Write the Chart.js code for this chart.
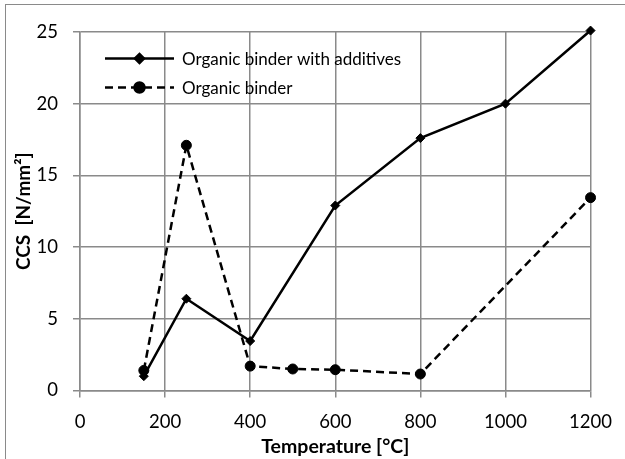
<!DOCTYPE html>
<html>
<head>
<meta charset="utf-8">
<script src="https://cdn.jsdelivr.net/npm/chart.js@4/dist/chart.umd.min.js"></script>
<style>
  html, body { margin: 0; padding: 0; background: #fff; }
  #wrap { position: relative; width: 625px; height: 459px; overflow: hidden; }
  #frame { position: absolute; left: 5px; top: 4px; width: 700px; height: 500px;
           border-left: 1.5px solid #8a8a8a; border-top: 1.5px solid #8a8a8a; pointer-events: none; }
  canvas { position: absolute; left: 0; top: 0; }
</style>
</head>
<body>
<div id="wrap">
  <canvas id="c" width="625" height="459"></canvas>
  <div id="frame"></div>
</div>
<script>
const temperatures = [150, 250, 400, 500, 600, 800, 1000, 1200];
const withAdditives = [1.0, 6.4, 3.45, null, 12.9, 17.6, 20.0, 25.1];
const organicBinder = [1.4, 17.1, 1.7, 1.5, 1.45, 1.15, null, 13.45];
const seriesNames = ['Organic binder with additives', 'Organic binder'];
const xTicks = [0, 200, 400, 600, 800, 1000, 1200];
const yTicks = [0, 5, 10, 15, 20, 25];
const xTitle = 'Temperature [°C]';
const yTitle = 'CCS  [N/mm²]';

const FONT = "Lato, 'Open Sans', sans-serif";
const GRID = '#8a8a8a';

function pts(vals) {
  const out = [];
  vals.forEach((v, i) => { if (v !== null) out.push({x: temperatures[i], y: v}); });
  return out;
}

const insideLegend = {
  id: 'insideLegend',
  afterDraw(chart) {
    const {ctx, chartArea} = chart;
    const x0 = chartArea.left + 25, x1 = chartArea.left + 94;
    const rows = [chartArea.top + 26.5, chartArea.top + 55.5];
    chart.data.datasets.forEach((ds, i) => {
      const y = rows[i];
      ctx.save();
      ctx.strokeStyle = ds.borderColor;
      ctx.lineWidth = ds.borderWidth;
      ctx.setLineDash(ds.borderDash || []);
      ctx.beginPath(); ctx.moveTo(x0, y); ctx.lineTo(x1, y); ctx.stroke();
      ctx.setLineDash([]);
      Chart.helpers.drawPoint(ctx, {
        pointStyle: ds.pointStyle, radius: ds.pointRadius, borderWidth: ds.pointBorderWidth
      }, (x0 + x1) / 2, y);
      ctx.fillStyle = ds.pointBackgroundColor;
      ctx.fill();
      ctx.fillStyle = '#000';
      ctx.font = "17px " + FONT;
      ctx.textBaseline = 'middle';
      ctx.textAlign = 'left';
      ctx.fillText(ds.label, x1 + 8, y + 1);
      ctx.restore();
    });
  }
};

new Chart(document.getElementById('c'), {
  type: 'line',
  data: {
    datasets: [
      {
        label: seriesNames[0], data: pts(withAdditives),
        borderColor: '#000', backgroundColor: '#000', borderWidth: 2.5,
        pointStyle: 'rectRot', pointRadius: 4.5, pointBorderWidth: 1,
        pointBackgroundColor: '#000', pointBorderColor: '#000', tension: 0, clip: false
      },
      {
        label: seriesNames[1], data: pts(organicBinder),
        borderColor: '#000', backgroundColor: '#000', borderWidth: 2.5, borderDash: [8, 5],
        pointStyle: 'circle', pointRadius: 5, pointBorderWidth: 1,
        pointBackgroundColor: '#000', pointBorderColor: '#000', tension: 0, clip: false
      }
    ]
  },
  options: {
    responsive: false, animation: false, events: [],
    layout: { padding: { left: 0, top: 32, right: 32, bottom: 0 } },
    plugins: { legend: { display: false }, tooltip: { enabled: false } },
    scales: {
      x: {
        type: 'linear', min: 0, max: 1200,
        afterBuildTicks(s) { s.ticks = xTicks.map(v => ({value: v})); },
        afterFit(s) { s.height = 68.5; },
        grid: { color: GRID, lineWidth: 1.5, tickLength: 7, drawTicks: true, tickColor: GRID },
        border: { color: GRID, width: 1.5 },
        ticks: { color: '#000', font: { family: FONT, size: 18.5 }, padding: 13, maxRotation: 0,
                 callback: v => String(v) },
        title: { display: true, text: xTitle, color: '#000',
                 font: { family: FONT, size: 19.5, weight: 'bold' }, padding: { top: 0, bottom: 1 } }
      },
      y: {
        type: 'linear', min: 0, max: 25,
        afterBuildTicks(s) { s.ticks = yTicks.map(v => ({value: v})); },
        afterFit(s) { s.width = 80; },
        grid: { color: GRID, lineWidth: 1.5, tickLength: 7, drawTicks: true, tickColor: GRID },
        border: { color: GRID, width: 1.5 },
        ticks: { color: '#000', font: { family: FONT, size: 18.5 }, padding: 15,
                 callback: v => String(v) },
        title: { display: true, text: yTitle, color: '#000',
                 font: { family: FONT, size: 19, weight: 'bold' }, padding: { top: 12, bottom: 0 } }
      }
    }
  },
  plugins: [insideLegend]
});
</script>
</body>
</html>
